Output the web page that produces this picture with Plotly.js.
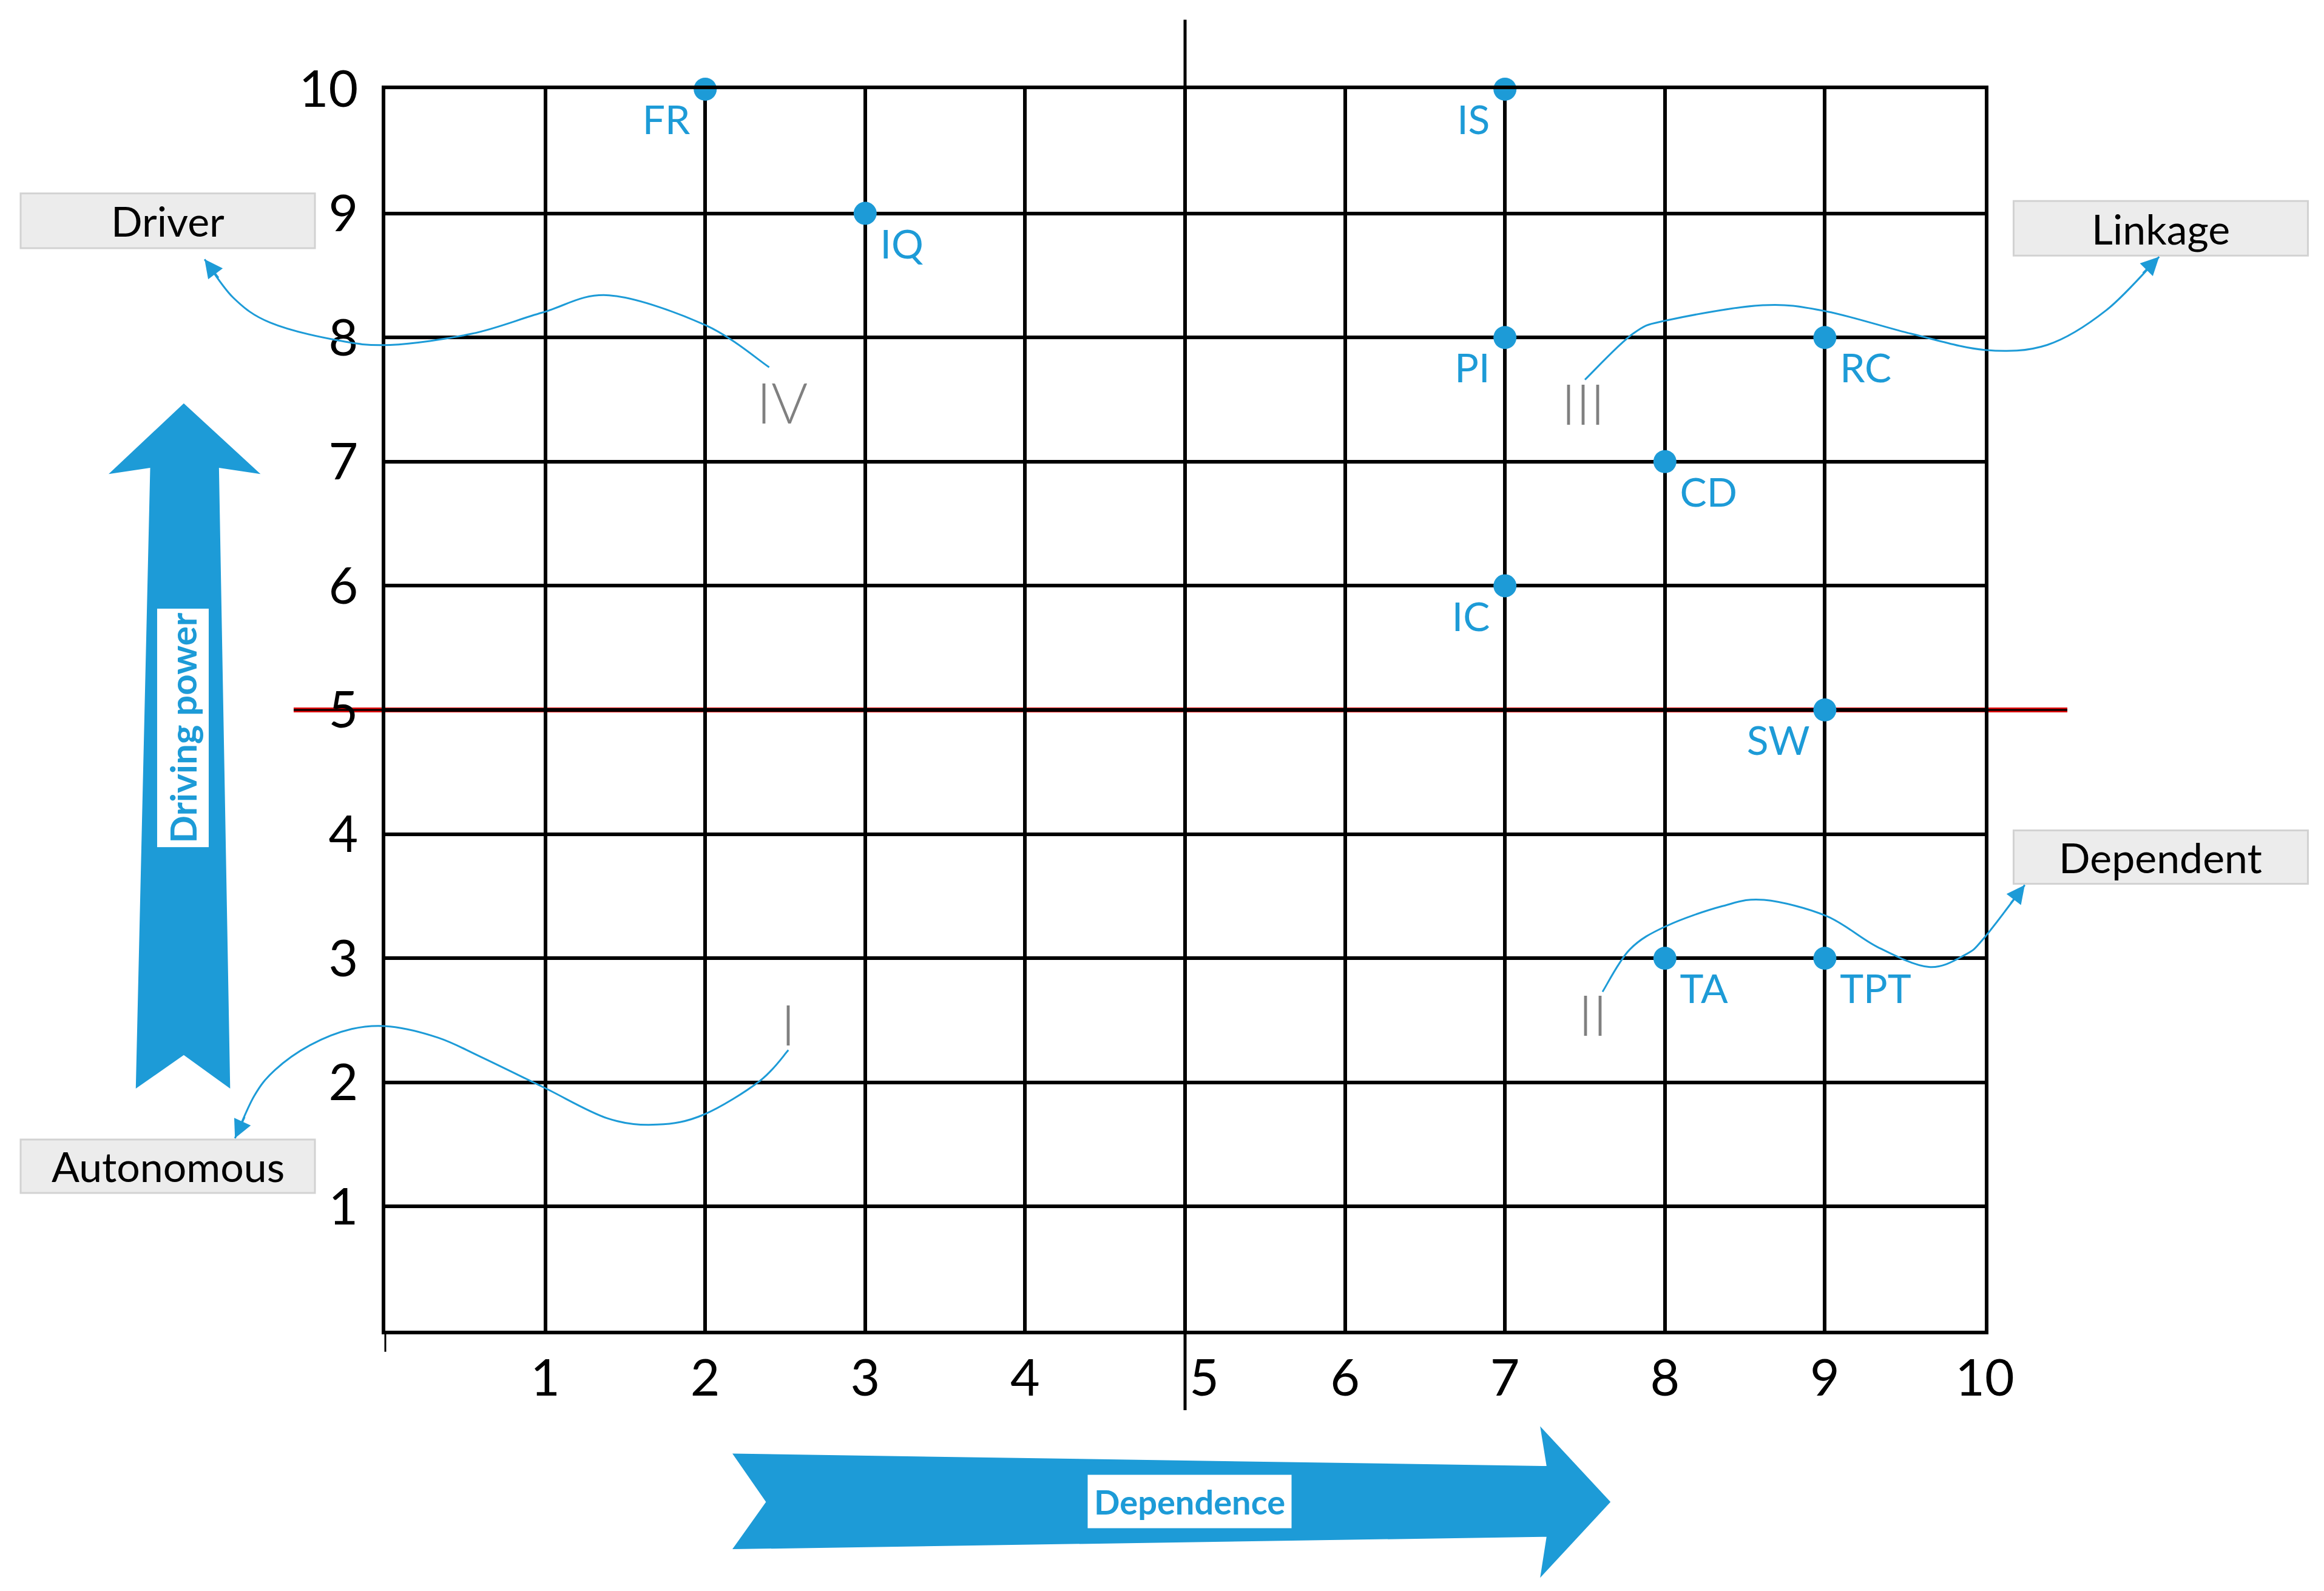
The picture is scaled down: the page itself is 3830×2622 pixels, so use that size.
<!DOCTYPE html>
<html>
<head>
<meta charset="utf-8">
<script src="https://cdn.plot.ly/plotly-3.0.1.min.js"></script>
<style>
  html, body { margin: 0; padding: 0; background: #fff; }
  #chart { width: 3830px; height: 2622px; }
</style>
</head>
<body>
<div id="chart"></div>
<script>
// driving power vs dependence map (MICMAC)
const factors = ['FR', 'IQ', 'IS', 'PI', 'RC', 'CD', 'IC', 'SW', 'TA', 'TPT'];
const dependence = [2, 3, 7, 7, 9, 8, 7, 9, 8, 9];
const drivingPower = [10, 9, 10, 8, 8, 7, 6, 5, 3, 3];
const labelPos = ['bottom left', 'bottom right', 'bottom left', 'bottom left', 'bottom right',
  'bottom right', 'bottom left', 'bottom left', 'bottom right', 'bottom right'];

const tickVals = [1, 2, 3, 4, 5, 6, 7, 8, 9, 10];
const xTickText = ['1', '2', '3', '4', '\u20035', '6', '7', '8', '9', '10'];
const yTickText = ['1', '2', '3', '4', '5', '6', '7', '8', '9', '10'];

const quadrants = ['I', 'II', 'III', 'IV'];
const quadrantX = [2.52, 7.55, 7.49, 2.48];
const quadrantY = [2.47, 2.55, 7.47, 7.48];

const zones = ['Driver', 'Linkage', 'Dependent', 'Autonomous'];
const zoneX0 = [-2.28, 10.18, 10.18, -2.28];
const zoneX1 = [-0.44, 12.02, 12.02, -0.44];
const zoneY0 = [8.72, 8.66, 3.60, 1.11];
const zoneY1 = [9.16, 9.10, 4.03, 1.54];

// curved pointers from quadrant numeral to zone box (grid units, last point = arrow tip)
const curveIV = [[2.40, 7.76], [2.00, 8.10], [1.40, 8.34], [0.98, 8.20], [0.54, 8.03], [0.03, 7.94],
  [-0.31, 7.98], [-0.72, 8.12], [-0.95, 8.32], [-1.13, 8.63]];
const curveIII = [[7.50, 7.66], [7.80, 8.03], [8.02, 8.14], [8.61, 8.26], [9.01, 8.21], [9.54, 8.03],
  [10.0, 7.90], [10.39, 7.94], [10.76, 8.22], [11.09, 8.65]];
const curveII = [[7.61, 2.73], [7.78, 3.07], [8.01, 3.26], [8.36, 3.42], [8.62, 3.47], [9.01, 3.34],
  [9.33, 3.09], [9.65, 2.93], [9.88, 3.03], [10.00, 3.17], [10.25, 3.59]];
const curveI = [[2.52, 2.26], [2.34, 2.01], [1.99, 1.74], [1.70, 1.66], [1.39, 1.71], [0.99, 1.96],
  [0.59, 2.21], [0.33, 2.36], [0.03, 2.45], [-0.21, 2.43], [-0.47, 2.30], [-0.69, 2.10],
  [-0.82, 1.89], [-0.94, 1.55]];

// big block arrows
const upArrow = [[-1.26, 7.47], [-0.78, 6.90], [-1.04, 6.95], [-0.97, 1.95], [-1.26, 2.22],
  [-1.56, 1.95], [-1.47, 6.95], [-1.73, 6.90]];
const rightArrow = [[2.17, -0.99], [7.26, -1.09], [7.22, -0.77], [7.66, -1.38], [7.22, -1.99],
  [7.26, -1.66], [2.17, -1.76], [2.38, -1.38]];

const BLUE = '#1d9bd7';
const FONT = 'Lato, "Liberation Sans", sans-serif';
const W = 3830, H = 2622;
const margin = {l: 635, r: 559, t: 147, b: 429, pad: 0};
const pxX = (W - margin.l - margin.r) / 10;
const pxY = (H - margin.t - margin.b) / 10;

const f = (v) => (v / 10).toFixed(5);

function smoothPath(pts) {
  let d = `M${f(pts[0][0])},${f(pts[0][1])}`;
  for (let i = 0; i < pts.length - 1; i++) {
    const a = pts[Math.max(i - 1, 0)], b = pts[i], c = pts[i + 1], e = pts[Math.min(i + 2, pts.length - 1)];
    const c1 = [b[0] + (c[0] - a[0]) / 6, b[1] + (c[1] - a[1]) / 6];
    const c2 = [c[0] - (e[0] - b[0]) / 6, c[1] - (e[1] - b[1]) / 6];
    d += ` C${f(c1[0])},${f(c1[1])} ${f(c2[0])},${f(c2[1])} ${f(c[0])},${f(c[1])}`;
  }
  return d;
}

const polyPath = (pts) => 'M' + pts.map(([x, y]) => `${f(x)},${f(y)}`).join(' L') + ' Z';

const shapes = [];
const annotations = [];

// text annotation placed by its centre (paper coords)
const label = (x, y, text, font, extra) => Object.assign({
  xref: 'paper', yref: 'paper', x: x, y: y, text: text, showarrow: false,
  xanchor: 'center', yanchor: 'middle', font: font,
}, extra || {});

// red cut-off line at 5 and long centre line at 5
shapes.push({type: 'line', xref: 'paper', yref: 'paper', x0: -0.0573, x1: 1.0516, y0: 0.5, y1: 0.5,
  line: {color: '#e00000', width: 8}, layer: 'below'});
shapes.push({type: 'line', xref: 'paper', yref: 'paper', x0: -0.0573, x1: 1.0516, y0: 0.5, y1: 0.5,
  line: {color: '#000', width: 3}, layer: 'below'});
shapes.push({type: 'line', xref: 'paper', yref: 'paper', x0: 0.5, x1: 0.5, y0: -0.064, y1: 1.056,
  line: {color: '#000', width: 5}, layer: 'below'});
shapes.push({type: 'line', xref: 'paper', yref: 'paper', x0: 0, x1: 0, y0: 0, y1: -0.017,
  line: {color: '#000', width: 3}, layer: 'below'});

// block arrows
[upArrow, rightArrow].forEach((pts) => {
  shapes.push({type: 'path', xref: 'paper', yref: 'paper', path: polyPath(pts),
    fillcolor: BLUE, line: {width: 0}, layer: 'above'});
});

// zone boxes
zones.forEach((z, i) => {
  shapes.push({type: 'rect', xref: 'paper', yref: 'paper',
    x0: zoneX0[i] / 10, x1: zoneX1[i] / 10, y0: zoneY0[i] / 10, y1: zoneY1[i] / 10,
    fillcolor: '#ececec', line: {color: '#d2d2d2', width: 3}});
  annotations.push(label((zoneX0[i] + zoneX1[i]) / 20, (zoneY0[i] + zoneY1[i]) / 20, z,
    {family: FONT, size: 68, color: '#000'}));
});

// curves + arrow heads
[curveIV, curveIII, curveII, curveI].forEach((pts) => {
  shapes.push({type: 'path', xref: 'paper', yref: 'paper', path: smoothPath(pts),
    line: {color: BLUE, width: 3}, layer: 'above'});
  const tip = pts[pts.length - 1], prev = pts[pts.length - 2];
  const dx = (tip[0] - prev[0]) * pxX, dy = -(tip[1] - prev[1]) * pxY;
  const len = Math.hypot(dx, dy);
  annotations.push({xref: 'paper', yref: 'paper', x: tip[0] / 10, y: tip[1] / 10, text: '',
    showarrow: true, arrowhead: 2, arrowsize: 2, arrowwidth: 3, arrowcolor: BLUE,
    ax: -dx / len * 40, ay: -dy / len * 40, standoff: 0});
});

// quadrant numerals
quadrants.forEach((q, i) => {
  annotations.push(label(quadrantX[i] / 10, quadrantY[i] / 10, q,
    {family: FONT, size: 92, color: '#808080', weight: 300}));
});

// arrow captions
annotations.push(label(-0.1265, 0.4853, '<b>Driving power</b>',
  {family: FONT, size: 60, color: BLUE}, {textangle: -90, bgcolor: '#fff', borderpad: 6}));
annotations.push(label(0.5027, -0.1378, '<b>Dependence</b>',
  {family: FONT, size: 56, color: BLUE}, {bgcolor: '#fff', borderpad: 10}));

const points = {
  x: dependence,
  y: drivingPower,
  text: factors,
  type: 'scatter',
  mode: 'markers+text',
  textposition: labelPos,
  marker: {size: 38, color: BLUE},
  textfont: {family: FONT, size: 66, color: BLUE},
  cliponaxis: false,
  hoverinfo: 'skip',
};

const axisBase = {
  range: [0, 10], autorange: false, tickvals: tickVals, showgrid: true, gridcolor: '#000', gridwidth: 6,
  showline: true, mirror: true, linecolor: '#000', linewidth: 6, zeroline: false, ticks: '',
  tickfont: {family: FONT, size: 84, color: '#000'}, fixedrange: true, automargin: false,
};

const layout = {
  width: W,
  height: H,
  margin: margin,
  paper_bgcolor: '#fff',
  plot_bgcolor: 'rgba(0,0,0,0)',
  showlegend: false,
  xaxis: Object.assign({}, axisBase, {ticktext: xTickText, ticklabelstandoff: 0}),
  yaxis: Object.assign({}, axisBase, {ticktext: yTickText, ticklabelstandoff: 22}),
  shapes: shapes,
  annotations: annotations,
};

Plotly.newPlot('chart', [points], layout, {displayModeBar: false, staticPlot: true});
</script>
</body>
</html>
